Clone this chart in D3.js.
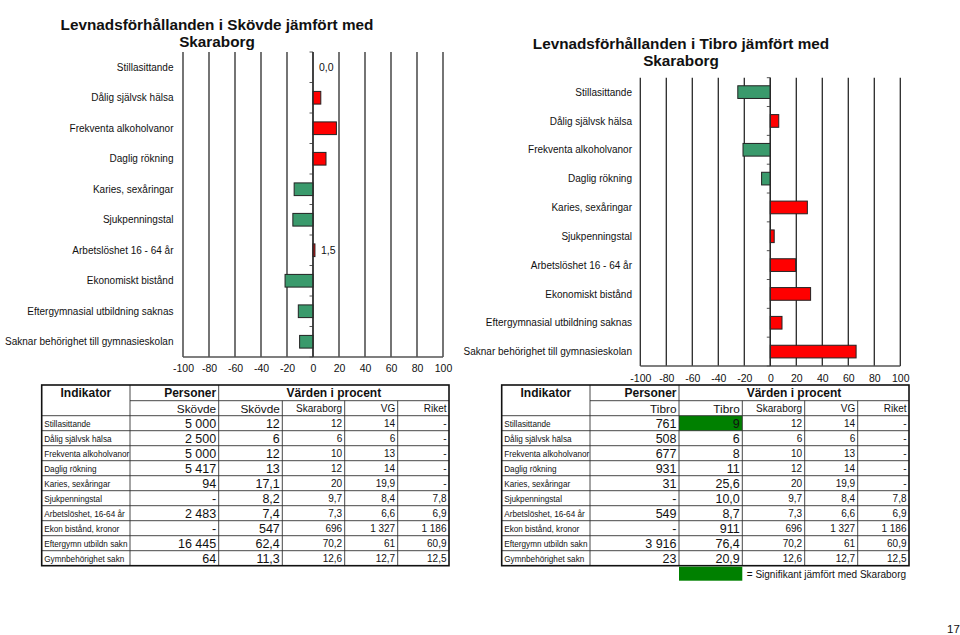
<!DOCTYPE html>
<html><head><meta charset="utf-8">
<script src="https://cdn.jsdelivr.net/npm/d3@7"></script>
<style>
body{margin:0;background:#fff}
svg{display:block}
text{font-family:"Liberation Sans",Arial,Helvetica,sans-serif;fill:#111}
</style>
</head><body>
<svg id="c" width="960" height="635"></svg>
<script>
// ---------- data ----------
const categories = ["Stillasittande","Dålig självsk hälsa","Frekventa alkoholvanor","Daglig rökning","Karies, sexåringar","Sjukpenningstal","Arbetslöshet 16 - 64 år","Ekonomiskt bistånd","Eftergymnasial utbildning saknas","Saknar behörighet till gymnasieskolan"];
const skovdeDiff = [0, 6, 18, 10, -14.5, -15.5, 1.5, -21.5, -11.3, -10.3];
const tibroDiff = [-25, 6.5, -21, -6.7, 28.5, 3, 19.5, 31, 9, 66];
const skovdeBarLabels = ["0,0", "", "", "", "", "", "1,5", "", "", ""];
const tibroBarLabels = ["", "", "", "", "", "", "", "", "", ""];
const xTicks = [-100, -80, -60, -40, -20, 0, 20, 40, 60, 80, 100];

const indikatorer = ["Stillasittande","Dålig självsk hälsa","Frekventa alkoholvanor","Daglig rökning","Karies, sexåringar","Sjukpenningstal","Arbetslöshet, 16-64 år","Ekon bistånd, kronor","Eftergymn utbildn sakn","Gymnbehörighet sakn"];
const skovdePersoner = ["5 000","2 500","5 000","5 417","94","-","2 483","-","16 445","64"];
const skovdeProcent = ["12","6","12","13","17,1","8,2","7,4","547","62,4","11,3"];
const tibroPersoner = ["761","508","677","931","31","-","549","-","3 916","23"];
const tibroProcent = ["9","6","8","11","25,6","10,0","8,7","911","76,4","20,9"];
const skaraborgVal = ["12","6","10","12","20","9,7","7,3","696","70,2","12,6"];
const vgVal = ["14","6","13","14","19,9","8,4","6,6","1 327","61","12,7"];
const riketVal = ["-","-","-","-","-","7,8","6,9","1 186","60,9","12,5"];
const tibroSignificant = [true,false,false,false,false,false,false,false,false,false];
const skovdeSignificant = [false,false,false,false,false,false,false,false,false,false];

// ---------- drawing ----------
const svg = d3.select("#c");
const RED = "#ff0000", GREEN = "#3a9a6c";

function drawChart(o){
  const g = svg.append("g");
  const x = d3.scaleLinear().domain([-100,100]).range([o.x0, o.x1]);
  const y = d3.scaleBand().domain(categories).range([o.y0, o.y1])
              .paddingInner(o.pad).paddingOuter(o.pad/2);
  o.title.forEach((t,i)=>{
    g.append("text").attr("x", o.tx).attr("y", o.ty + i*16.8)
      .attr("text-anchor","middle").attr("font-size","15.3px").attr("font-weight","bold").text(t);
  });
  g.selectAll(".grid").data(xTicks).enter().append("line")
    .attr("x1", d=>x(d)).attr("x2", d=>x(d)).attr("y1", o.y0).attr("y2", o.y1)
    .attr("stroke","#2a2a2a").attr("stroke-width",1.3);
  g.append("line").attr("x1", x(-100)).attr("x2", x(100)).attr("y1", o.y1).attr("y2", o.y1)
    .attr("stroke","#555").attr("stroke-width",1.5);
  const step = y.step();
  d3.range(categories.length+1).forEach(i=>{
    const yy = o.y0 + i*step;
    g.append("line").attr("x1", x(0)-3.5).attr("x2", x(0)).attr("y1", yy).attr("y2", yy)
      .attr("stroke","#555").attr("stroke-width",1);
  });
  const ax = d3.axisBottom(x).tickValues(xTicks).tickSize(0).tickPadding(0).tickFormat(d=>String(d));
  const axg = g.append("g").attr("transform", `translate(0,${o.tickY})`).call(ax);
  axg.select(".domain").remove();
  axg.selectAll("text").attr("font-size","10.5px").attr("fill","#222")
     .attr("font-family","Liberation Sans, Arial, sans-serif").attr("dy","0");
  const data = o.values.map((v,i)=>({c:categories[i], v:v}));
  g.selectAll(".bar").data(data.filter(d=>d.v!==0)).enter().append("rect")
    .attr("x", d=>x(Math.min(0,d.v))).attr("width", d=>Math.abs(x(d.v)-x(0)))
    .attr("y", d=>y(d.c)).attr("height", y.bandwidth())
    .attr("fill", d=>d.v>0?RED:GREEN).attr("stroke","#222").attr("stroke-width",1);
  g.append("line").attr("x1", x(0)).attr("x2", x(0)).attr("y1", o.y0).attr("y2", o.y1)
    .attr("stroke","#2a2a2a").attr("stroke-width",1.3);
  categories.forEach((c,i)=>{
    g.append("text").attr("x", o.labelX).attr("y", y(c)+y.bandwidth()/2+3.6)
      .attr("text-anchor","end").attr("font-size","10px").attr("fill","#222").text(c);
    if(o.barLabels[i]){
      g.append("text").attr("x", x(Math.max(0,o.values[i]))+6).attr("y", y(c)+y.bandwidth()/2+3.8)
        .attr("font-size","10.5px").attr("fill","#333").text(o.barLabels[i]);
    }
  });
}

drawChart({x0:183, x1:443, y0:52, y1:357, pad:0.584, values:skovdeDiff, barLabels:skovdeBarLabels,
  title:["Levnadsförhållanden i Skövde jämfört med","Skaraborg"], tx:217, ty:30, labelX:173.5, tickY:371.5});
drawChart({x0:640.3, x1:900.3, y0:77.7, y1:366, pad:0.56, values:tibroDiff, barLabels:tibroBarLabels,
  title:["Levnadsförhållanden i Tibro jämfört med","Skaraborg"], tx:681, ty:49.3, labelX:632, tickY:382});

function drawTable(o){
  const g = svg.append("g");
  const c = o.cols, top = 385, h1 = 400.7, h2 = 415.7, rh = 15;
  const bottom = h2 + rh*indikatorer.length;
  o.sig.forEach((s,i)=>{ if(s) g.append("rect").attr("x", c[2]).attr("y", h2+i*rh)
     .attr("width", c[3]-c[2]).attr("height", rh).attr("fill","#008000"); });
  const thin = (x1,y1,x2,y2)=>g.append("line").attr("x1",x1).attr("y1",y1).attr("x2",x2).attr("y2",y2)
      .attr("stroke","#333").attr("stroke-width",0.9);
  thin(c[1],h1,c[6],h1);
  thin(c[0],h2,c[6],h2);
  d3.range(1,indikatorer.length).forEach(i=>thin(c[0],h2+i*rh,c[6],h2+i*rh));
  thin(c[1],top,c[1],bottom); thin(c[2],top,c[2],bottom);
  [3,4,5].forEach(k=>thin(c[k],h1,c[k],bottom));
  g.append("rect").attr("x",c[0]).attr("y",top).attr("width",c[6]-c[0]).attr("height",bottom-top)
    .attr("fill","none").attr("stroke","#111").attr("stroke-width",1.6);
  const txt = (x,y,s,size,anchor,bold)=>g.append("text").attr("x",x).attr("y",y).attr("font-size",size)
      .attr("text-anchor",anchor).attr("font-weight",bold?"bold":"normal").text(s);
  txt((c[0]+c[1])/2, 397.3, "Indikator", "12px", "middle", true);
  txt(c[2]-2.5, 397.3, "Personer", "12px", "end", true);
  txt((c[2]+c[6])/2, 397.3, "Värden i procent", "12px", "middle", true);
  txt(c[2]-2.5, 412.5, o.name, "11.8px", "end");
  txt(c[3]-2.5, 412.5, o.name, "11.8px", "end");
  txt(c[4]-2.5, 411.5, "Skaraborg", "10px", "end");
  txt(c[5]-2.5, 411.5, "VG", "10px", "end");
  txt(c[6]-2.5, 411.5, "Riket", "10px", "end");
  indikatorer.forEach((d,i)=>{
    const yb = h2 + i*rh;
    txt(c[0]+2.5, yb+11.3, d, "8.2px", "start");
    txt(c[2]-2.5, yb+11.8, o.personer[i], "12.5px", "end");
    txt(c[3]-2.5, yb+11.8, o.procent[i], "12.5px", "end");
    txt(c[4]-2.5, yb+10.8, skaraborgVal[i], "10px", "end");
    txt(c[5]-2.5, yb+10.8, vgVal[i], "10px", "end");
    txt(c[6]-2.5, yb+10.8, riketVal[i], "10px", "end");
  });
  if(o.legend){
    g.append("rect").attr("x",c[2]).attr("y",bottom+1).attr("width",c[3]-c[2]).attr("height",14).attr("fill","#008000");
    txt(c[3]+4.5, bottom+12, "= Signifikant jämfört med Skaraborg", "10px", "start");
  }
}

drawTable({cols:[41.7,130,218.7,282.3,344.7,397.7,449], name:"Skövde", personer:skovdePersoner, procent:skovdeProcent, sig:skovdeSignificant, legend:false});
drawTable({cols:[501.7,590,679,742.3,804.7,857.7,909], name:"Tibro", personer:tibroPersoner, procent:tibroProcent, sig:tibroSignificant, legend:true});

svg.append("text").attr("x",947).attr("y",633).attr("font-size","11.5px").text("17");
</script>
</body></html>
